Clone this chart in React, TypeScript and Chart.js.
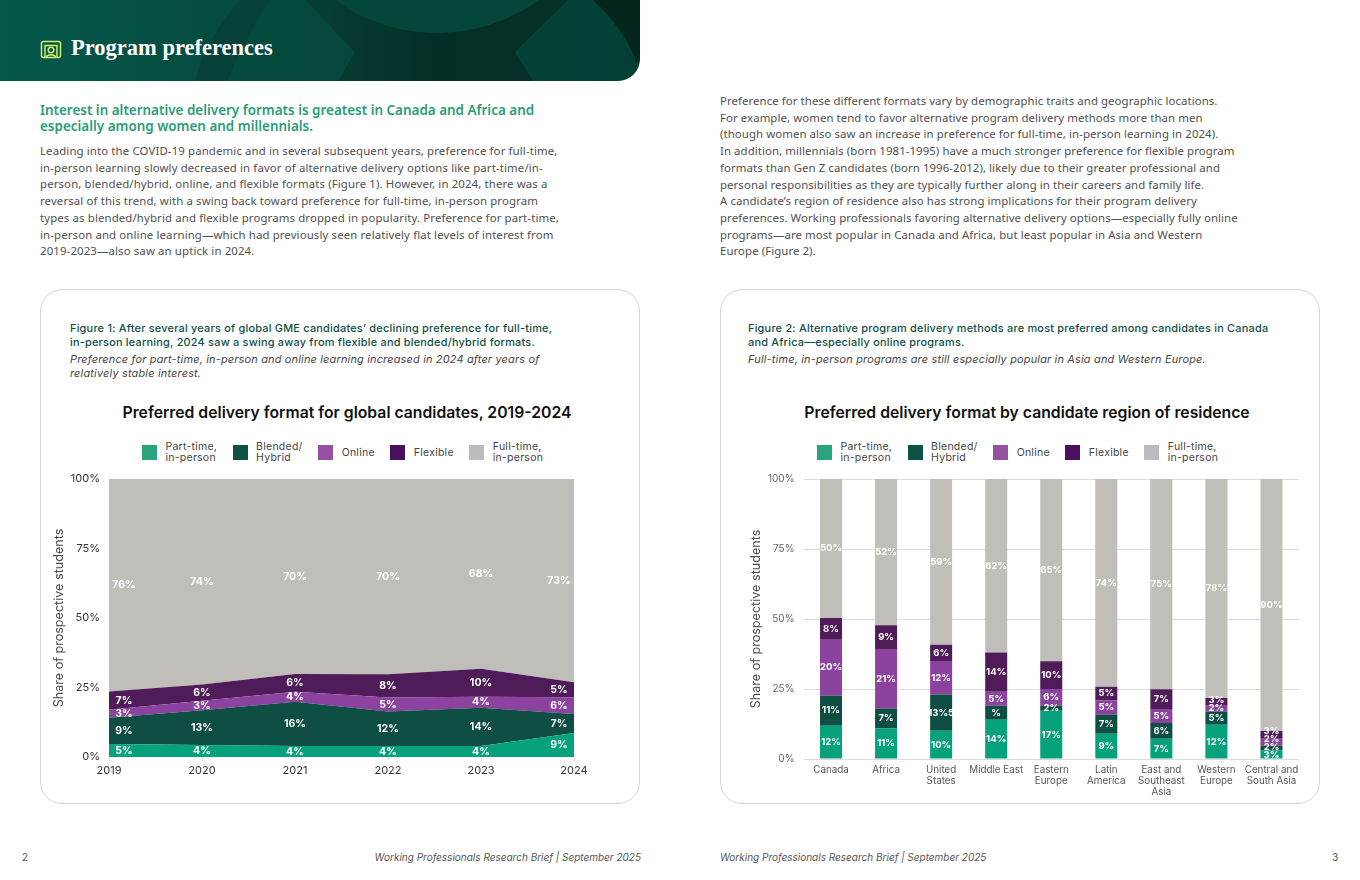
import React, { useEffect, useRef } from "react";
import { Chart, registerables } from "chart.js";

Chart.register(...registerables);

const years = ["2019", "2020", "2021", "2022", "2023", "2024"];
const yearPartTime = [4.7, 4.3, 4.0, 4.0, 4.0, 8.6];
const yearBlended = [9.4, 12.5, 15.9, 12.4, 13.7, 6.9];
const yearOnline = [2.9, 3.4, 3.6, 5.0, 4.0, 6.0];
const yearFlexible = [6.6, 5.9, 6.4, 8.4, 10.0, 5.4];
const yearFullTime = [76.4, 73.9, 70.1, 70.2, 68.3, 73.1];

const regions = [
  "Canada",
  "Africa",
  ["United", "States"],
  "Middle East",
  ["Eastern", "Europe"],
  ["Latin", "America"],
  ["East and", "Southeast", "Asia"],
  ["Western", "Europe"],
  ["Central and", "South Asia"],
];
const regionPartTime = [11.9, 11.0, 10.1, 14.0, 17.2, 9.0, 7.2, 12.2, 3.0];
const regionBlended = [10.8, 7.0, 12.9, 5.0, 1.8, 6.8, 5.7, 4.8, 1.8];
const regionOnline = [19.9, 21.0, 12.0, 5.0, 6.0, 5.2, 5.0, 2.0, 2.4];
const regionFlexible = [7.8, 8.8, 5.8, 14.0, 9.9, 4.8, 7.0, 2.8, 2.8];
const regionFullTime = [49.6, 52.2, 59.2, 62.0, 65.1, 74.2, 75.1, 78.2, 90.0];
const regionBlendedLabels = ["11%", "7%", "13%5", "%", "2%", "7%", "6%", "5%", "2%"];

const yTicks = [0, 25, 50, 75, 100];
const axisTitle = "Share of prospective students";

const seriesColors = ["#05A27B", "#0F4E43", "#8C429F", "#4F1C59", "#BFBEB9"];
const legendColors = ["#2BA37D", "#0C5247", "#95519F", "#4B0F5F", "#BBBBC0"];
const legendNames = [
  ["Part-time,", "in-person"],
  ["Blended/", "Hybrid"],
  ["Online"],
  ["Flexible"],
  ["Full-time,", "in-person"],
];

const UI = "Inter, 'Noto Sans', sans-serif";
const BODY = "'Noto Sans', Inter, sans-serif";

const headLines = [
  "Interest in alternative delivery formats is greatest in Canada and Africa and",
  "especially among women and millennials.",
];
const leftBody = [
  "Leading into the COVID-19 pandemic and in several subsequent years, preference for full-time,",
  "in-person learning slowly decreased in favor of alternative delivery options like part-time/in-",
  "person, blended/hybrid, online, and flexible formats (Figure 1). However, in 2024, there was a",
  "reversal of this trend, with a swing back toward preference for full-time, in-person program",
  "types as blended/hybrid and flexible programs dropped in popularity. Preference for part-time,",
  "in-person and online learning\u2014which had previously seen relatively flat levels of interest from",
  "2019-2023\u2014also saw an uptick in 2024.",
];
const rightBody = [
  "Preference for these different formats vary by demographic traits and geographic locations.",
  "For example, women tend to favor alternative program delivery methods more than men",
  "(though women also saw an increase in preference for full-time, in-person learning in 2024).",
  "In addition, millennials (born 1981-1995) have a much stronger preference for flexible program",
  "formats than Gen Z candidates (born 1996-2012), likely due to their greater professional and",
  "personal responsibilities as they are typically further along in their careers and family life.",
  "A candidate\u2019s region of residence also has strong implications for their program delivery",
  "preferences. Working professionals favoring alternative delivery options\u2014especially fully online",
  "programs\u2014are most popular in Canada and Africa, but least popular in Asia and Western",
  "Europe (Figure 2).",
];
const fig1Head = [
  "Figure 1: After several years of global GME candidates\u2019 declining preference for full-time,",
  "in-person learning, 2024 saw a swing away from flexible and blended/hybrid formats.",
];
const fig1Sub = [
  "Preference for part-time, in-person and online learning increased in 2024 after years of",
  "relatively stable interest.",
];
const fig2Head = [
  "Figure 2: Alternative program delivery methods are most preferred among candidates in Canada",
  "and Africa\u2014especially online programs.",
];
const fig2Sub = ["Full-time, in-person programs are still especially popular in Asia and Western Europe."];
const footer = "Working Professionals Research Brief | September 2025";

const segmentLabels = {
  id: "segmentLabels",
  afterDatasetsDraw(chart: any, _a: any, opts: any) {
    const { ctx, scales } = chart;
    ctx.save();
    ctx.font = `700 ${opts.size}px ${UI}`;
    ctx.fillStyle = "#ffffff";
    ctx.textAlign = "center";
    ctx.textBaseline = "middle";
    const count = chart.data.labels.length;
    for (let c = 0; c < count; c++) {
      let lastY = Infinity;
      let base = scales.y.bottom;
      chart.data.datasets.forEach((ds: any, i: number) => {
        const el = chart.getDatasetMeta(i).data[c];
        let y = (el.y + base) / 2;
        if (y > lastY - opts.minGap) y = lastY - opts.minGap;
        lastY = y;
        base = el.y;
        let x = el.x;
        if (opts.edgeInset) {
          if (c === 0) x += opts.edgeInset;
          if (c === count - 1) x -= opts.edgeInset;
        }
        const text = ds.labelTexts ? ds.labelTexts[c] : `${Math.round(ds.data[c])}%`;
        ctx.fillText(text, x, y);
      });
    }
    ctx.restore();
  },
};

function useChart(build: (c: HTMLCanvasElement) => Chart) {
  const ref = useRef<HTMLCanvasElement>(null);
  useEffect(() => {
    const chart = build(ref.current!);
    return () => chart.destroy();
  }, []);
  return ref;
}

function yScale(width: number, tickSize: number, tickColor: string, gridColor: string | null) {
  return {
    stacked: true,
    min: 0,
    max: 100,
    afterFit: (s: any) => {
      s.width = width;
      s.paddingTop = 0;
      s.paddingBottom = 0;
    },
    afterBuildTicks: (s: any) => {
      s.ticks = yTicks.map((v) => ({ value: v }));
    },
    ticks: {
      padding: 9,
      color: tickColor,
      font: { family: UI, size: tickSize },
      callback: (v: any) => `${v}%`,
    },
    border: { display: false },
    grid: gridColor ? { color: gridColor, drawTicks: false } : { display: false, drawTicks: false },
    title: {
      display: true,
      text: axisTitle,
      color: "#4a4a4a",
      padding: { top: 2, bottom: 0 },
      font: { family: UI, size: 12.6, lineHeight: 1.2 },
    },
  };
}

function AreaChart() {
  const ref = useChart(
    (c) =>
      new Chart(c, {
        type: "line",
        data: {
          labels: years,
          datasets: [yearPartTime, yearBlended, yearOnline, yearFlexible, yearFullTime].map((d, i) => ({
            label: legendNames[i].join(" "),
            data: d,
            backgroundColor: seriesColors[i],
            borderWidth: 0,
            pointRadius: 0,
            tension: 0,
            fill: i === 0 ? "origin" : "-1",
          })),
        } as any,
        options: {
          animation: false,
          responsive: false,
          layout: { padding: { top: 9, right: 36, left: 0, bottom: 0 } },
          plugins: {
            legend: { display: false },
            tooltip: { enabled: false },
            segmentLabels: { size: 10.5, minGap: 8, edgeInset: 15 },
          },
          scales: {
            y: yScale(59, 11, "#333333", null),
            x: {
              stacked: true,
              offset: false,
              afterFit: (s: any) => {
                s.height = 43;
              },
              border: { display: false },
              grid: { drawOnChartArea: false, tickLength: 4, color: "#dddddd" },
              ticks: { padding: 3, color: "#333333", maxRotation: 0, font: { family: UI, size: 11 } },
            },
          },
        } as any,
        plugins: [segmentLabels],
      })
  );
  return <canvas ref={ref} width={560} height={330} style={{ position: "absolute", left: 50, top: 470 }} />;
}

function BarChart() {
  const ref = useChart(
    (c) =>
      new Chart(c, {
        type: "bar",
        data: {
          labels: regions,
          datasets: [regionPartTime, regionBlended, regionOnline, regionFlexible, regionFullTime].map((d, i) => ({
            label: legendNames[i].join(" "),
            data: d,
            backgroundColor: seriesColors[i],
            borderWidth: 0,
            barPercentage: 0.4,
            categoryPercentage: 1,
            labelTexts: i === 1 ? regionBlendedLabels : undefined,
          })),
        } as any,
        options: {
          animation: false,
          responsive: false,
          layout: { padding: { top: 9, right: 18, left: 0, bottom: 0 } },
          plugins: {
            legend: { display: false },
            tooltip: { enabled: false },
            segmentLabels: { size: 9.5, minGap: 8, edgeInset: 0 },
          },
          scales: {
            y: yScale(56.5, 10, "#666666", "#dcdcdc"),
            x: {
              stacked: true,
              afterFit: (s: any) => {
                s.height = 41;
              },
              border: { display: false },
              grid: { display: false, drawTicks: false },
              ticks: {
                padding: 6,
                autoSkip: false,
                maxRotation: 0,
                color: "#555555",
                font: { family: UI, size: 9.8, lineHeight: 1.1 },
              },
            },
          },
        } as any,
        plugins: [segmentLabels],
      })
  );
  return <canvas ref={ref} width={570} height={330} style={{ position: "absolute", left: 747, top: 470 }} />;
}

function Lines(p: { lines: string[]; left: number; top: number; lh: number; style: React.CSSProperties }) {
  return (
    <div
      style={{
        position: "absolute",
        left: p.left,
        top: p.top,
        lineHeight: `${p.lh}px`,
        whiteSpace: "pre",
        ...p.style,
      }}
    >
      {p.lines.map((l, i) => (
        <div key={i}>{l}</div>
      ))}
    </div>
  );
}

function Legend(p: { left: number; top: number; gap: number }) {
  return (
    <div
      style={{
        position: "absolute",
        left: p.left,
        top: p.top,
        display: "flex",
        alignItems: "center",
        gap: p.gap,
        height: 24,
        fontFamily: UI,
        fontSize: 10.5,
        letterSpacing: 0.25,
        lineHeight: "11px",
        color: "#444444",
        whiteSpace: "pre",
      }}
    >
      {legendNames.map((n, i) => (
        <div key={i} style={{ display: "flex", alignItems: "center", gap: 8.5 }}>
          <span style={{ width: 15, height: 15, background: legendColors[i], display: "block" }} />
          <span>
            {n.map((t) => (
              <div key={t}>{t}</div>
            ))}
          </span>
        </div>
      ))}
    </div>
  );
}

function Card(p: { left: number }) {
  return (
    <div
      style={{
        position: "absolute",
        left: p.left,
        top: 289,
        width: 598,
        height: 513,
        border: "1px solid #d6d6d6",
        borderRadius: 22,
      }}
    />
  );
}

function Header() {
  return (
    <svg width={640} height={82} style={{ position: "absolute", left: 0, top: 0 }}>
      <defs>
        <linearGradient id="hg" x1="0" x2="1" y1="0" y2="0">
          <stop offset="0" stopColor="#04594B" />
          <stop offset="0.4" stopColor="#05493D" />
          <stop offset="1" stopColor="#043F34" />
        </linearGradient>
        <linearGradient id="hd" x1="0" x2="1" y1="0" y2="0">
          <stop offset="0" stopColor="#063F34" />
          <stop offset="0.5" stopColor="#052E26" />
          <stop offset="1" stopColor="#053027" />
        </linearGradient>
        <clipPath id="hc">
          <path d="M0 0H640V59A22 22 0 0 1 618 81H0Z" />
        </clipPath>
      </defs>
      <g clipPath="url(#hc)">
        <rect width={640} height={82} fill="url(#hg)" />
        <path d="M240 0H270Q238 50 228 81H195Q205 40 240 0Z" fill="#064238" />
        <path d="M305 0L355 52L338 81H533L515 52L568 0Z" fill="url(#hd)" />
        <circle cx={437} cy={-141} r={174} fill="#05463A" />
        <path d="M593 0Q625 30 637 63L640 60V0Z" fill="#04261F" />
      </g>
      <g fill="none" stroke="#D6F06A" strokeWidth={1.5}>
        <rect x={41.5} y={41.5} width={19} height={16} rx={2} />
        <path d="M45 57V45.5H57V57" />
        <circle cx={51} cy={50} r={2.8} />
        <path d="M46.5 57C47.5 54 54.5 54 55.5 57" />
      </g>
      <text x={71} y={55} fill="#ffffff" fontFamily="'Liberation Serif', serif" fontWeight={700} fontSize={22.5}>
        Program preferences
      </text>
    </svg>
  );
}

export default function App() {
  const bodyStyle: React.CSSProperties = {
    fontFamily: BODY,
    fontSize: 11.4,
    letterSpacing: 0.13,
    color: "#4f4f4f",
  };
  const figHead: React.CSSProperties = {
    fontFamily: UI,
    fontSize: 10.9,
    letterSpacing: 0.23,
    fontWeight: 500,
    color: "#0E4F44",
  };
  const figSub: React.CSSProperties = {
    fontFamily: UI,
    fontSize: 10.9,
    letterSpacing: 0.2,
    fontStyle: "italic",
    color: "#444444",
  };
  const titleStyle: React.CSSProperties = {
    position: "absolute",
    top: 403,
    width: 600,
    textAlign: "center",
    fontFamily: UI,
    fontWeight: 600,
    fontSize: 15.75,
    lineHeight: "20px",
    color: "#111111",
  };
  const footStyle: React.CSSProperties = {
    position: "absolute",
    top: 850,
    fontFamily: UI,
    fontSize: 10,
    lineHeight: "14px",
    color: "#555555",
    whiteSpace: "pre",
  };
  return (
    <div
      style={{
        position: "absolute",
        left: 0,
        top: 0,
        width: 1360,
        height: 880,
        overflow: "hidden",
        background: "#ffffff",
      }}
    >
      <Header />
      <Lines
        lines={headLines}
        left={40}
        top={102}
        lh={16}
        style={{ fontFamily: BODY, fontSize: 13.45, fontWeight: 600, color: "#2A9D78" }}
      />
      <Lines lines={leftBody} left={40} top={143} lh={16.7} style={bodyStyle} />
      <Lines lines={rightBody} left={720} top={93} lh={16.7} style={{ ...bodyStyle, letterSpacing: 0.08 }} />

      <Card left={40} />
      <Card left={720} />

      <Lines lines={fig1Head} left={70} top={321} lh={14} style={figHead} />
      <Lines lines={fig1Sub} left={70} top={352} lh={14} style={figSub} />
      <Lines lines={fig2Head} left={748} top={321} lh={14} style={figHead} />
      <Lines lines={fig2Sub} left={748} top={352} lh={14} style={figSub} />

      <div style={{ ...titleStyle, left: 47 }}>Preferred delivery format for global candidates, 2019-2024</div>
      <div style={{ ...titleStyle, left: 727 }}>Preferred delivery format by candidate region of residence</div>

      <Legend left={142} top={440} gap={15.5} />
      <Legend left={817} top={440} gap={15.5} />

      <AreaChart />
      <BarChart />

      <div style={{ ...footStyle, left: 22 }}>2</div>
      <div style={{ ...footStyle, right: 719, fontStyle: "italic" }}>{footer}</div>
      <div style={{ ...footStyle, left: 720, fontStyle: "italic" }}>{footer}</div>
      <div style={{ ...footStyle, left: 1332 }}>3</div>
    </div>
  );
}
